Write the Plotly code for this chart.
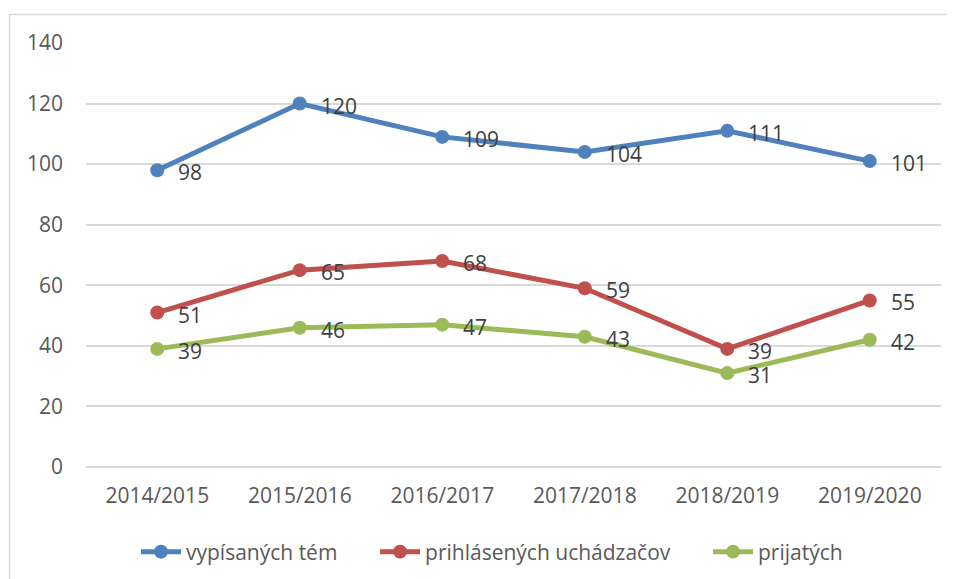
import plotly.graph_objects as go

categories = ["2014/2015", "2015/2016", "2016/2017", "2017/2018", "2018/2019", "2019/2020"]
vypisanych_tem = [98, 120, 109, 104, 111, 101]
prihlasenych = [51, 65, 68, 59, 39, 55]
prijatych = [39, 46, 47, 43, 31, 42]
series_names = ["vypísaných tém", "prihlásených uchádzačov", "prijatých"]
series_colors = ["#4F81BD", "#C0504D", "#9BBB59"]
y_ticks = [0, 20, 40, 60, 80, 100, 120, 140]

# the page body has an 8px margin, so the figure starts at (8, 8)
OFF = 8
W, H = 955 - OFF, 579 - OFF
L, R, T, B = 86 - OFF, 14, 43 - OFF, 112
pw, ph = W - L - R, H - T - B


def px_x(p):
    return (p - OFF - L) / pw


def px_y(p):
    return (H - B - (p - OFF)) / ph


fig = go.Figure()
pad = "\u00a0" * 6
for k, (name, vals, col) in enumerate(zip(series_names, [vypisanych_tem, prihlasenych, prijatych], series_colors)):
    fig.add_trace(go.Scatter(
        x=list(range(len(categories))), y=vals,
        name=name + (pad if k < 2 else ""),
        mode="lines+markers",
        line=dict(color=col, width=5),
        marker=dict(color=col, size=14),
        cliponaxis=False,
    ))
    for i, v in enumerate(vals):
        fig.add_annotation(x=i, y=v, text=str(v), showarrow=False,
                           xanchor="left", yanchor="middle", xshift=19, yshift=-2,
                           font=dict(family="Open Sans", size=21, color="#404040"))

fig.add_shape(type="rect", xref="paper", yref="paper",
              x0=px_x(9.5), x1=px_x(980), y0=px_y(600), y1=px_y(14.5),
              line=dict(color="#d9d9d9", width=1.5), fillcolor="rgba(0,0,0,0)", layer="below")

fig.update_layout(
    width=W, height=H,
    margin=dict(l=L, r=R, t=T, b=B, autoexpand=False),
    paper_bgcolor="white", plot_bgcolor="white",
    font=dict(family="Open Sans", size=21, color="#595959"),
    showlegend=True,
    legend=dict(orientation="h", x=px_x(492), xanchor="center", y=px_y(552), yanchor="middle",
                font=dict(family="Open Sans", size=21, color="#595959"),
                itemwidth=40, tracegroupgap=0),
    xaxis=dict(range=[-0.5, len(categories) - 0.5], tickmode="array",
               tickvals=list(range(len(categories))), ticktext=categories,
               showgrid=False, zeroline=False, showline=False,
               ticks="", ticklabelstandoff=14, fixedrange=True),
    yaxis=dict(range=[0, 140], tickmode="array", tickvals=y_ticks,
               showgrid=True, gridcolor="#d9d9d9", gridwidth=1.5,
               zeroline=True, zerolinecolor="#d9d9d9", zerolinewidth=1.5,
               showline=False, ticks="", ticklabelstandoff=22, fixedrange=True),
)

fig.write_html("out.html")
